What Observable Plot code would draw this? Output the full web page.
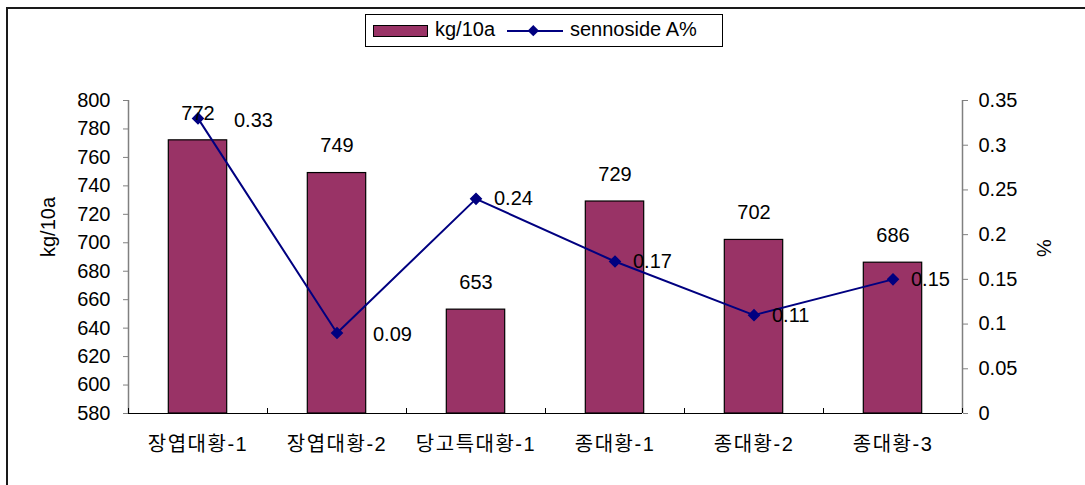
<!DOCTYPE html>
<html><head><meta charset="utf-8">
<script src="https://cdn.jsdelivr.net/npm/d3@7"></script>
<script src="https://cdn.jsdelivr.net/npm/@observablehq/plot@0.6"></script>
<style>
body{margin:0;background:#fff;overflow:hidden}
#wrap{position:relative;width:1085px;height:485px;overflow:hidden;font-family:"Liberation Sans",Arial,"Noto Sans CJK KR",sans-serif;color:#000}
#frame{position:absolute;left:6px;top:7px;width:1200px;height:600px;border-left:2px solid #1a1a1a;border-top:2px solid #1a1a1a;pointer-events:none}
#chart{position:absolute;left:0;top:0}
#legend{position:absolute;left:365px;top:14px;width:356px;height:31px;border:1px solid #000;background:#fff;font-size:20px}
#legend .sw{position:absolute;left:7px;top:10px;width:53px;height:10px;background:#993366;border:1px solid #000}
#legend .t1{position:absolute;left:69px;top:3px}
#legend svg{position:absolute;left:141px;top:6px}
#legend .t2{position:absolute;left:204px;top:3px}
svg text{font-family:"Liberation Sans",Arial,"Noto Sans CJK KR",sans-serif}
g[aria-label="x-axis tick label"] text{letter-spacing:1.5px}
</style>
</head><body>
<div id="wrap">
  <div id="chart"></div>
  <div id="frame"></div>
  <div id="legend">
    <div class="sw"></div><div class="t1">kg/10a</div>
    <svg width="56" height="20"><line x1="0" y1="10" x2="56" y2="10" stroke="#000080" stroke-width="2"/><rect x="23" y="5" width="8" height="8" fill="#000080" transform="rotate(45 27 9) translate(0 1)"/></svg>
    <div class="t2">sennoside A%</div>
  </div>
</div>
<script>
const categories = ["장엽대황-1","장엽대황-2","당고특대황-1","종대황-1","종대황-2","종대황-3"];
const yieldKg = [772, 749, 653, 729, 702, 686];
const sennosideA = [0.33, 0.09, 0.24, 0.17, 0.11, 0.15];
const leftTicks = [580,600,620,640,660,680,700,720,740,760,780,800];
const rightTicks = [0,0.05,0.1,0.15,0.2,0.25,0.3,0.35];

const kgMin = 580, kgMax = 800, pctMax = 0.35;
const toKg = p => kgMin + p / pctMax * (kgMax - kgMin);
const fromKg = k => (k - kgMin) / (kgMax - kgMin) * pctMax;

const data = categories.map((c, i) => ({i, cat: c, kg: yieldKg[i], pct: sennosideA[i], pk: toKg(sennosideA[i])}));
const centers = categories.map((c, i) => i + 0.5);
const bounds = d3.range(categories.length + 1);
const halfBar = 0.21;

const chart = Plot.plot({
  width: 1085,
  height: 485,
  marginLeft: 128,
  marginRight: 123,
  marginTop: 100,
  marginBottom: 72,
  style: {fontSize: "20px", background: "transparent", color: "#000", overflow: "visible"},
  x: {domain: [0, categories.length], label: null},
  y: {domain: [kgMin, kgMax], label: null},
  marks: [
    Plot.rectY(data, {x1: d => d.i + 0.5 - halfBar, x2: d => d.i + 0.5 + halfBar, y1: kgMin, y2: "kg", fill: "#993366", stroke: "#000", strokeWidth: 1.2}),
    Plot.ruleY([kgMin], {stroke: "#000", strokeWidth: 1.2}),
    Plot.ruleX([0, categories.length], {y1: kgMin, y2: kgMax, stroke: "#808080", strokeWidth: 1.5}),
    Plot.axisY({anchor: "left", ticks: leftTicks, tickSize: 5, tickPadding: 13, stroke: "#808080", fill: "#000", fontSize: 20}),
    Plot.axisY({anchor: "right", ticks: rightTicks.map(toKg), tickFormat: v => String(+fromKg(v).toFixed(2)), tickSize: 5, tickPadding: 11, stroke: "#808080", fill: "#000", fontSize: 20}),
    Plot.axisX({ticks: bounds, tickSize: 5, dy: -5, tickFormat: () => "", stroke: "#000"}),
    Plot.axisX({ticks: centers, tickSize: 0, tickPadding: 23, tickFormat: d => categories[Math.round(d - 0.5)], fill: "#000", fontSize: 20}),
    Plot.text(["kg/10a"], {frameAnchor: "left", dx: -80, rotate: -90, fontSize: 20}),
    Plot.text(["%"], {frameAnchor: "right", dx: 81, rotate: 90, fontSize: 20}),
    Plot.line(data, {x: d => d.i + 0.5, y: "pk", stroke: "#000080", strokeWidth: 2}),
    Plot.dot(data, {x: d => d.i + 0.5, y: "pk", symbol: "square", rotate: 45, r: 4.2, fill: "#000080", stroke: "#000080"}),
    Plot.text(data, {x: d => d.i + 0.5, y: "kg", text: d => String(d.kg), dy: -27, fontSize: 20, fill: "#000"}),
    Plot.text(data.filter(d => d.i < 2), {x: d => d.i + 0.5, y: "pk", text: d => String(d.pct), dx: 36, dy: 2, textAnchor: "start", fontSize: 20, fill: "#000"}),
    Plot.text(data.filter(d => d.i >= 2), {x: d => d.i + 0.5, y: "pk", text: d => String(d.pct), dx: 18, textAnchor: "start", fontSize: 20, fill: "#000"})
  ]
});
document.getElementById("chart").appendChild(chart);
</script>
</body></html>
